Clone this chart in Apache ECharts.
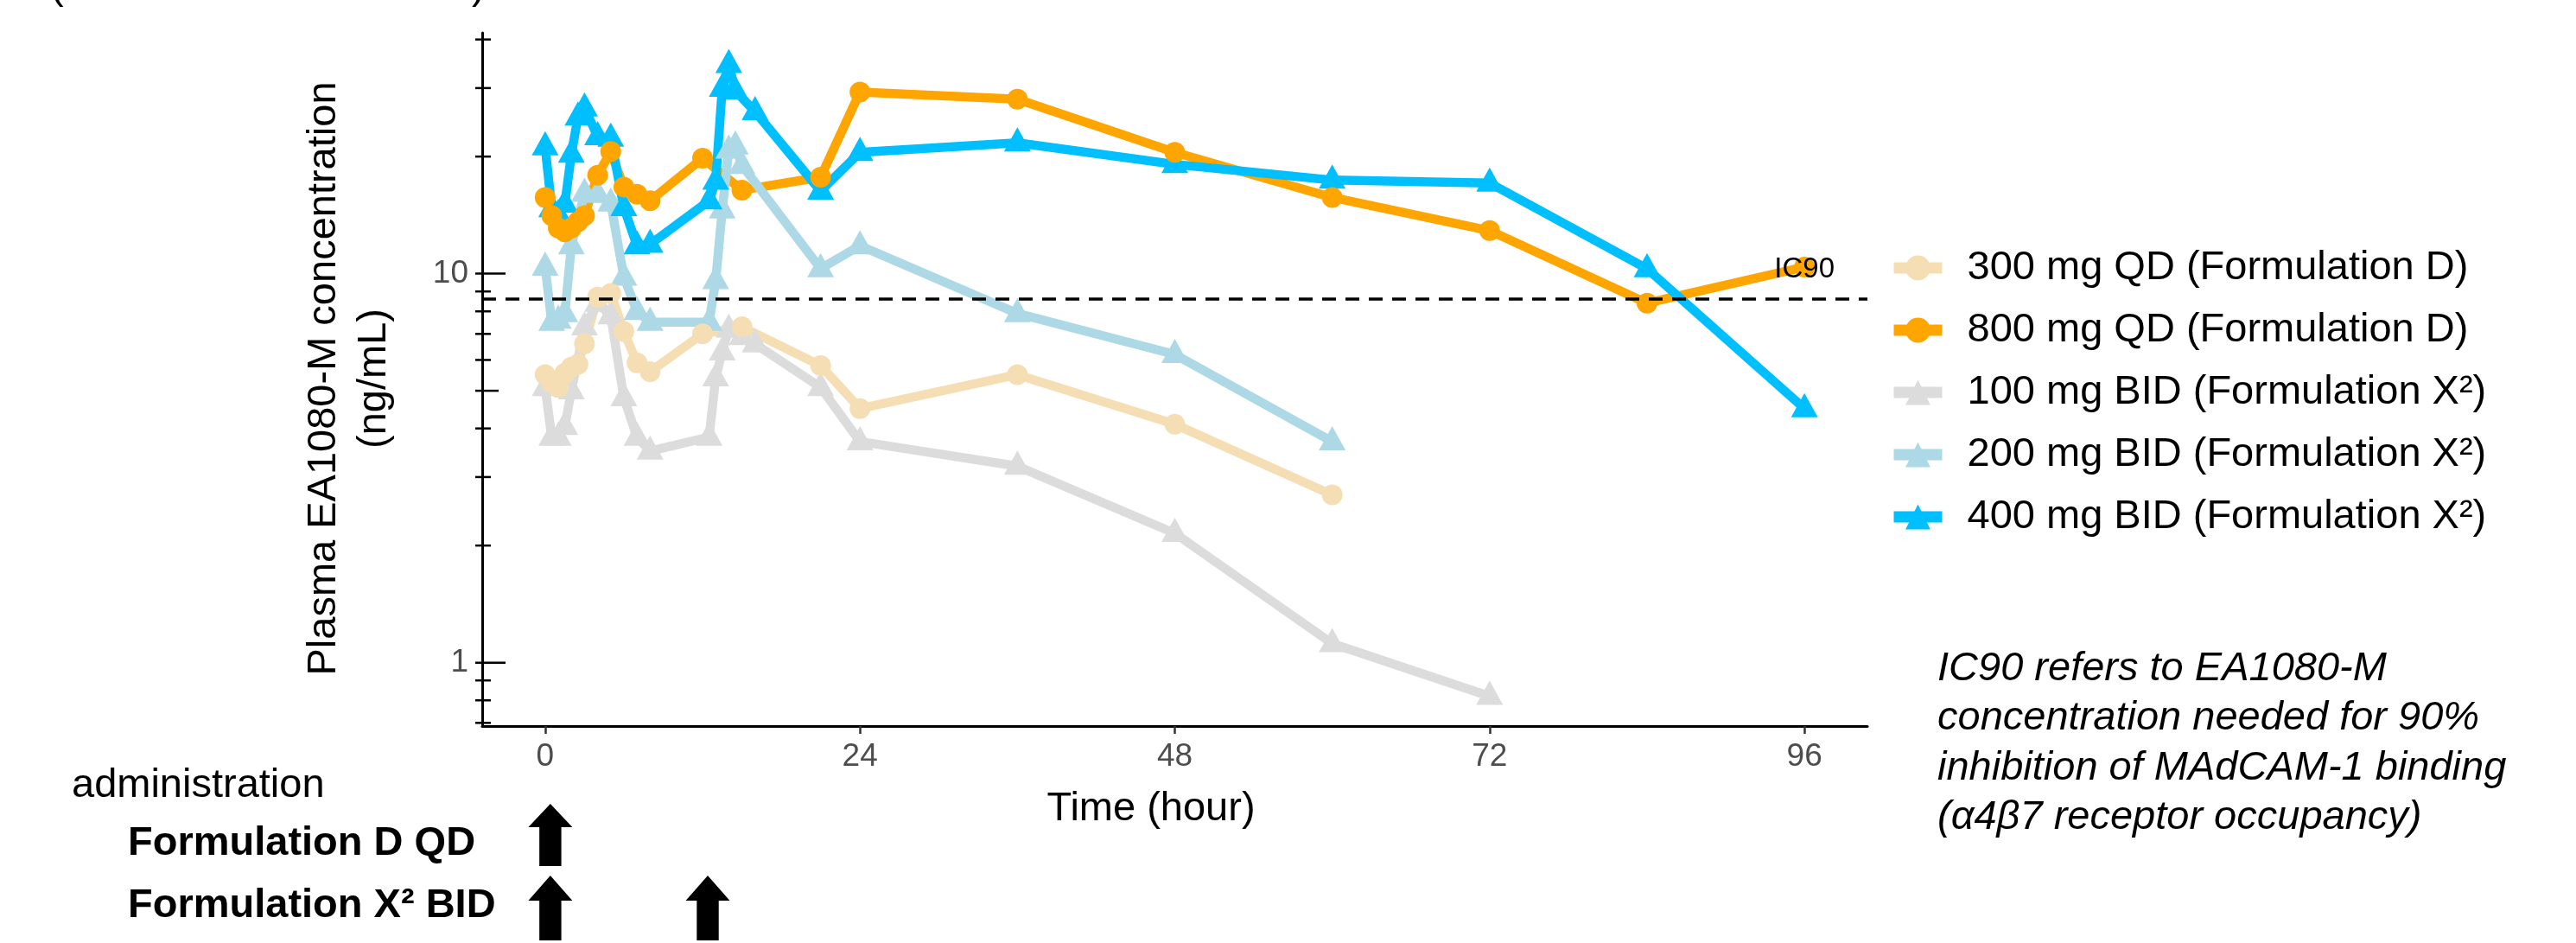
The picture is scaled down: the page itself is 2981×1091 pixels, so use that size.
<!DOCTYPE html>
<html>
<head>
<meta charset="utf-8">
<script src="https://cdn.jsdelivr.net/npm/echarts@6/dist/echarts.min.js"></script>
<style>
  html, body { margin: 0; padding: 0; background: #ffffff; }
  #chart { width: 2981px; height: 1091px; }
</style>
</head>
<body>
<div id="chart"></div>
<script>
// ---- Data --------------------------------------------------------------
const seriesNames = [
  '300 mg QD (Formulation D)',
  '800 mg QD (Formulation D)',
  '100 mg BID (Formulation X²)',
  '200 mg BID (Formulation X²)',
  '400 mg BID (Formulation X²)'
];

const qd300Hours = [0, 0.5, 1, 1.5, 2, 2.5, 3, 4, 5, 6, 7, 8, 12, 15, 21, 24, 36, 48, 60];
const qd300Conc  = [5.5, 5.25, 5.1, 5.55, 5.75, 5.85, 6.6, 8.7, 8.9, 7.1, 5.9, 5.6, 7.0, 7.3, 5.8, 4.5, 5.5, 4.1, 2.7];

const qd800Hours = [0, 0.5, 1, 1.5, 2, 2.5, 3, 4, 5, 6, 7, 8, 12, 15, 21, 24, 36, 48, 60, 72, 84, 96];
const qd800Conc  = [15.7, 14.1, 13.1, 12.8, 13.1, 13.6, 14.1, 17.9, 20.6, 16.7, 16.0, 15.4, 19.8, 16.4, 17.7, 29.3, 28.1, 20.5, 15.7, 12.9, 8.4, 10.4];

const bid100Hours = [0, 0.5, 1, 1.5, 2, 3, 4, 5, 6, 7, 8, 12.5, 13, 13.5, 14, 15, 16, 21, 24, 36, 48, 60, 72];
const bid100Conc  = [5.1, 3.8, 3.8, 4.05, 5.0, 7.3, 8.4, 7.8, 4.8, 3.8, 3.5, 3.8, 5.4, 6.3, 7.2, 6.9, 6.6, 5.1, 3.7, 3.2, 2.15, 1.12, 0.82];

const bid200Hours = [0, 0.5, 1, 1.5, 2, 3, 4, 5, 6, 7, 8, 12.5, 13, 13.5, 14, 14.5, 15, 21, 24, 36, 48, 60];
const bid200Conc  = [10.4, 7.5, 7.6, 7.9, 11.8, 16.1, 16.0, 15.2, 9.8, 8.0, 7.5, 7.5, 9.6, 14.6, 20.8, 21.3, 19.0, 10.3, 11.8, 7.9, 6.2, 3.7];

const bid400Hours = [0, 0.5, 1, 1.5, 2, 2.5, 3, 4, 5, 6, 7, 8, 12.5, 13, 13.5, 14, 14.5, 16, 21, 24, 36, 48, 60, 72, 84, 96];
const bid400Conc  = [21.2, 14.7, 14.2, 15.1, 20.3, 25.3, 26.7, 22.5, 22.3, 14.8, 11.8, 11.9, 15.4, 17.3, 30.0, 34.5, 29.5, 26.1, 16.3, 20.5, 21.7, 19.1, 17.4, 17.1, 10.3, 4.5];

// IC90 threshold (ng/mL)
const ic90 = 8.6;

// Dosing times (hours)
const doseHoursQD  = [0];
const doseHoursBID = [0, 12];

// Axis ticks
const timeTicks = [0, 24, 48, 72, 96];
const concTickValues  = [0.7, 0.8, 0.9, 1, 2, 3, 4, 5, 6, 7, 8, 9, 10, 20, 30, 40];
const concLabelValues = [1, 10];

// ---- Layout / style ------------------------------------------------------
const X_MIN = -4.8, X_MAX = 100.8;
const Y_MIN = 0.687, Y_MAX = 41.6;
const FONT = '"Liberation Sans", Arial, Helvetica, sans-serif';

const groups = [
  { name: seriesNames[0], hours: qd300Hours,  conc: qd300Conc,  color: '#F5DEB3', shape: 'circle',   bid: false },
  { name: seriesNames[1], hours: qd800Hours,  conc: qd800Conc,  color: '#FFA500', shape: 'circle',   bid: false },
  { name: seriesNames[2], hours: bid100Hours, conc: bid100Conc, color: '#DCDCDC', shape: 'triangle', bid: true },
  { name: seriesNames[3], hours: bid200Hours, conc: bid200Conc, color: '#ADD8E6', shape: 'triangle', bid: true },
  { name: seriesNames[4], hours: bid400Hours, conc: bid400Conc, color: '#00BFFF', shape: 'triangle', bid: true }
];

const toPairs = (h, c) => h.map((t, i) => [t, c[i]]);

const series = [];

// connecting lines (all lines sit underneath all markers)
groups.forEach(g => {
  series.push({
    type: 'line',
    name: g.name,
    data: toPairs(g.hours, g.conc),
    symbol: g.shape,
    showSymbol: false,
    lineStyle: { color: g.color, width: 10.5 },
    itemStyle: { color: g.color },
    z: g.bid ? 3 : 2,
    silent: true,
    animation: false
  });
});

// markers
groups.forEach(g => {
  series.push({
    type: 'scatter',
    name: g.name,
    data: toPairs(g.hours, g.conc),
    symbol: g.shape,
    symbolSize: g.shape === 'circle' ? 24 : [31, 28],
    symbolOffset: g.shape === 'circle' ? [0, 0] : [0, -4],
    itemStyle: { color: g.color, opacity: 1 },
    z: g.bid ? 4 : 5,
    silent: true,
    animation: false
  });
});

// IC90 reference line
series.push({
  type: 'line',
  name: 'IC90',
  data: [[X_MIN, ic90], [X_MAX, ic90]],
  showSymbol: false,
  symbol: 'none',
  lineStyle: { color: '#000000', width: 3.5, type: [16, 11] },
  z: 6,
  silent: true,
  animation: false
});

// IC90 text
series.push({
  type: 'custom',
  coordinateSystem: 'cartesian2d',
  data: [[96, ic90]],
  clip: false,
  silent: true,
  z: 7,
  renderItem(params, api) {
    const p = api.coord([api.value(0), api.value(1)]);
    return {
      type: 'text',
      x: p[0], y: p[1] - 34,
      style: { text: 'IC90', fill: '#000', font: '33px ' + FONT, align: 'center', verticalAlign: 'middle' }
    };
  }
});

// log-axis tick marks: short for 2..9, medium for 5, long for decades
series.push({
  type: 'custom',
  coordinateSystem: 'cartesian2d',
  data: concTickValues.map(v => [X_MIN, v]),
  clip: false,
  silent: true,
  z: 8,
  renderItem(params, api) {
    const v = api.value(1);
    const p = api.coord([X_MIN, v]);
    const len = (v === 1 || v === 10) ? 27 : (v === 5 ? 19 : 10);
    return {
      type: 'line',
      shape: { x1: p[0] - 8, y1: p[1], x2: p[0] + len, y2: p[1] },
      style: { stroke: '#000', lineWidth: 2.5 }
    };
  }
});

// decade labels
series.push({
  type: 'custom',
  coordinateSystem: 'cartesian2d',
  data: concLabelValues.map(v => [X_MIN, v]),
  clip: false,
  silent: true,
  z: 8,
  renderItem(params, api) {
    const v = api.value(1);
    const p = api.coord([X_MIN, v]);
    return {
      type: 'text',
      x: p[0] - 16, y: p[1],
      style: { text: String(v), fill: '#4D4D4D', font: '37px ' + FONT, align: 'right', verticalAlign: 'middle' }
    };
  }
});

// dose administration arrows
function arrowSeries(hours, top, headBase, bottom) {
  return {
    type: 'custom',
    coordinateSystem: 'cartesian2d',
    data: hours.map(t => [t, Y_MIN]),
    clip: false,
    silent: true,
    z: 8,
    renderItem(params, api) {
      const x = api.coord([api.value(0), Y_MIN])[0] + 6;
      const hw = 25.5, sw = 12.7;
      return {
        type: 'polygon',
        shape: { points: [
          [x, top], [x + hw, headBase], [x + sw, headBase], [x + sw, bottom],
          [x - sw, bottom], [x - sw, headBase], [x - hw, headBase]
        ] },
        style: { fill: '#000' }
      };
    }
  };
}
series.push(arrowSeries(doseHoursQD, 930, 957, 1002));
series.push(arrowSeries(doseHoursBID, 1013, 1042, 1088));

const option = {
  backgroundColor: '#ffffff',
  animation: false,
  textStyle: { fontFamily: FONT },
  grid: { left: 558, right: 820, top: 38, bottom: 251, containLabel: false },
  xAxis: {
    type: 'value',
    min: X_MIN, max: X_MAX,
    splitLine: { show: false },
    axisLine: { show: true, onZero: false, lineStyle: { color: '#000', width: 3 } },
    axisTick: { show: true, customValues: timeTicks, length: 9, lineStyle: { color: '#333', width: 2.5 } },
    axisLabel: { show: true, customValues: timeTicks, color: '#4D4D4D', fontSize: 37, fontFamily: FONT, margin: 17 }
  },
  yAxis: {
    type: 'log',
    logBase: 10,
    min: Y_MIN, max: Y_MAX,
    splitLine: { show: false },
    axisLine: { show: true, onZero: false, lineStyle: { color: '#000', width: 3 } },
    axisTick: { show: false },
    axisLabel: { show: false }
  },
  legend: {
    data: seriesNames,
    orient: 'vertical',
    left: 2180,
    top: 280,
    itemWidth: 56,
    itemHeight: 36,
    itemGap: 22,
    selectedMode: false,
    lineStyle: { width: 13 },
    textStyle: { fontSize: 47, fontFamily: FONT, color: '#000', lineHeight: 50, padding: [0, 0, 0, 24] }
  },
  series: series,
  graphic: [
    // clipped heading above the plot
    { type: 'text', x: 58, y: -15, style: { text: '(', font: '47px ' + FONT, fill: '#000', align: 'left', verticalAlign: 'middle' } },
    { type: 'text', x: 546, y: -15, style: { text: ')', font: '47px ' + FONT, fill: '#000', align: 'left', verticalAlign: 'middle' } },
    // axis titles
    { type: 'text', x: 404, y: 438, rotation: Math.PI / 2,
      style: { text: 'Plasma EA1080-M concentration\n(ng/mL)', font: '47px ' + FONT, fill: '#000', align: 'center', verticalAlign: 'middle', lineHeight: 58 } },
    { type: 'text', x: 1332, y: 936,
      style: { text: 'Time (hour)', font: '47px ' + FONT, fill: '#000', align: 'center', verticalAlign: 'middle' } },
    // dosing annotation
    { type: 'text', x: 83, y: 909,
      style: { text: 'administration', font: '47px ' + FONT, fill: '#000', align: 'left', verticalAlign: 'middle' } },
    { type: 'text', x: 148, y: 976,
      style: { text: 'Formulation D QD', font: 'bold 47px ' + FONT, fill: '#000', align: 'left', verticalAlign: 'middle' } },
    { type: 'text', x: 148, y: 1048,
      style: { text: 'Formulation X² BID', font: 'bold 47px ' + FONT, fill: '#000', align: 'left', verticalAlign: 'middle' } },
    // IC90 footnote
    { type: 'text', x: 2242, y: 745,
      style: { text: 'IC90 refers to EA1080-M\nconcentration needed for 90%\ninhibition of MAdCAM-1 binding\n(α4β7 receptor occupancy)',
               font: 'italic 47px ' + FONT, fill: '#000', align: 'left', verticalAlign: 'top', lineHeight: 57.5 } }
  ]
};

const chart = echarts.init(document.getElementById('chart'), null, { renderer: 'canvas' });
chart.setOption(option);
</script>
</body>
</html>
